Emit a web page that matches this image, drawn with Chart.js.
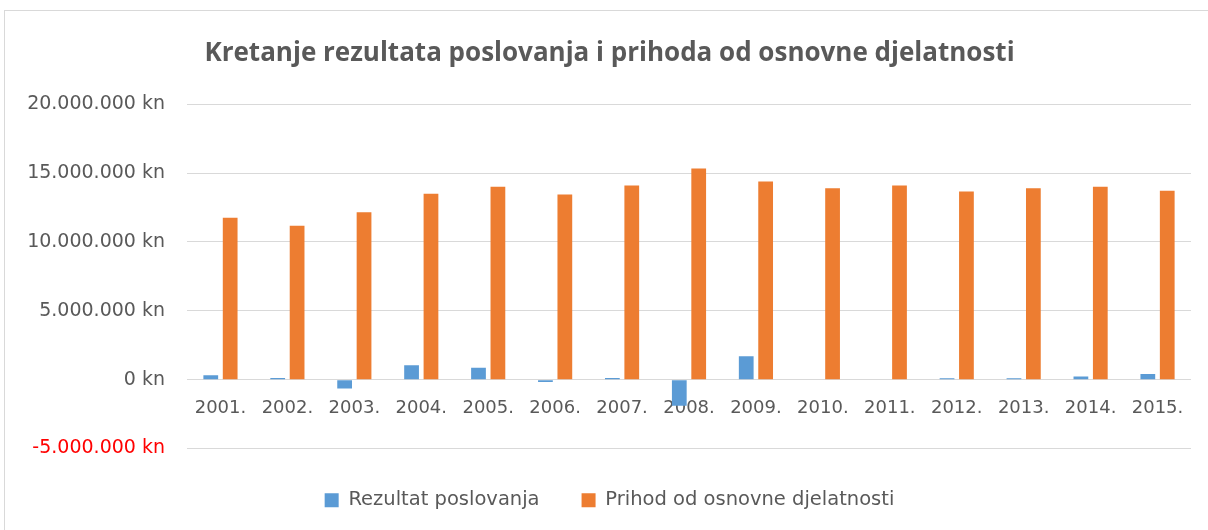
<!DOCTYPE html>
<html>
<head>
<meta charset="utf-8">
<script src="https://cdn.jsdelivr.net/npm/chart.js@4/dist/chart.umd.min.js"></script>
<style>
    html, body { margin: 0; padding: 0; background: #ffffff; }
    #frame {
        position: absolute; left: 4px; top: 10px; width: 1210px; height: 530px;
        border: 1px solid #d9d9d9; box-sizing: border-box;
    }
    #wrap { position: absolute; left: 0; top: 0; width: 1208px; height: 530px; }
</style>
</head>
<body>
<div id="frame"></div>
<div id="wrap"><canvas id="chart"></canvas></div>
<script>
const years = ['2001.', '2002.', '2003.', '2004.', '2005.', '2006.', '2007.', '2008.',
    '2009.', '2010.', '2011.', '2012.', '2013.', '2014.', '2015.'];
const rezultat = [310000, 120000, -650000, 1040000, 870000, -170000, 120000, -1900000,
    1700000, 0, 0, 100000, 100000, 220000, 410000];
const prihod = [11750000, 11180000, 12150000, 13500000, 14000000, 13440000, 14090000, 15330000,
    14390000, 13900000, 14090000, 13660000, 13900000, 14000000, 13720000];
const yTicks = [-5000000, 0, 5000000, 10000000, 15000000, 20000000];

function formatKn(value) {
    const s = Math.abs(value).toString().replace(/\B(?=(\d{3})+(?!\d))/g, '.');
    return (value < 0 ? '-' : '') + s + ' kn';
}

document.addEventListener("DOMContentLoaded", function() {
    const ctx = document.getElementById('chart');
    new Chart(ctx, {
        type: 'bar',
        data: {
            labels: years,
            datasets: [{
                label: 'Rezultat poslovanja',
                data: rezultat,
                backgroundColor: '#5b9bd5',
                categoryPercentage: 0.58,
                barPercentage: 0.76
            }, {
                label: 'Prihod od osnovne djelatnosti',
                data: prihod,
                backgroundColor: '#ed7d31',
                categoryPercentage: 0.58,
                barPercentage: 0.76
            }]
        },
        options: {
            responsive: true,
            maintainAspectRatio: false,
            animation: false,
            layout: { padding: { left: 28, right: 17, top: 20, bottom: 10 } },
            plugins: {
                title: {
                    display: true,
                    text: 'Kretanje rezultata poslovanja i prihoda od osnovne djelatnosti',
                    color: '#595959',
                    font: { family: 'Open Sans', size: 26, weight: 'bold' },
                    padding: { top: 18, bottom: 35 }
                },
                legend: {
                    position: 'bottom',
                    labels: {
                        color: '#595959',
                        font: { family: 'DejaVu Sans', size: 19.5 },
                        boxWidth: 14,
                        boxHeight: 14,
                        padding: 42
                    }
                },
                tooltip: { enabled: false }
            },
            scales: {
                y: {
                    min: -5000000,
                    max: 20000000,
                    afterBuildTicks: function(axis) {
                        axis.ticks = yTicks.map(v => ({ value: v }));
                    },
                    afterFit: function(axis) { axis.width = 159; },
                    border: { display: false },
                    grid: { color: '#d9d9d9', lineWidth: 1, drawTicks: false },
                    ticks: {
                        padding: 22,
                        font: { family: 'DejaVu Sans', size: 19 },
                        color: function(c) {
                            return c.tick && c.tick.value < 0 ? '#ff0000' : '#595959';
                        },
                        callback: function(value) { return formatKn(value); }
                    }
                },
                x: {
                    position: { y: 0 },
                    border: { display: false },
                    grid: { display: false, drawTicks: false },
                    ticks: {
                        z: -1,
                        padding: 18,
                        color: '#595959',
                        maxRotation: 0,
                        font: { family: 'DejaVu Sans', size: 18 }
                    }
                }
            }
        }
    });
});
</script>
</body>
</html>
